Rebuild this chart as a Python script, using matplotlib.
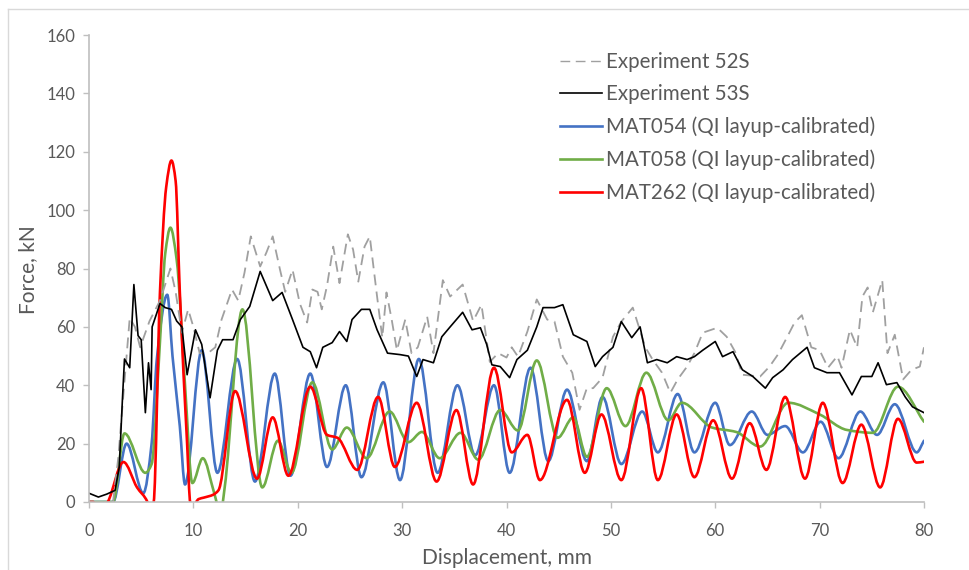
import matplotlib
matplotlib.use('Agg')
import matplotlib.pyplot as plt
import numpy as np
from matplotlib.lines import Line2D
from matplotlib.path import Path
from matplotlib.patches import PathPatch

plt.rcParams['font.family'] = ['Lato', 'DejaVu Sans']

# Experiment 52S (grey dashed)
exp52_x = [2.3, 2.8, 3.3, 3.9, 4.4, 4.9, 5.4, 5.8, 6.8, 7.8, 8.3, 8.9, 9.5, 10.0, 10.6, 11.4, 12.1, 12.7,
           13.7, 14.3, 14.9, 15.5, 16.4, 17.0, 17.6, 18.3, 18.8, 19.5, 20.2, 20.9, 21.4, 21.9, 22.3, 22.8,
           23.4, 24.0, 24.8, 25.3, 25.8, 26.4, 26.9, 27.6, 28.1, 28.5, 29.0, 29.5, 30.3, 30.9, 31.5, 32.4,
           33.0, 33.9, 34.6, 35.8, 36.8, 37.6, 38.4, 39.2, 40.0, 40.5, 41.1, 42.0, 42.9, 43.9, 44.6, 45.4,
           46.3, 47.0, 47.7, 48.3, 49.2, 50.2, 51.0, 52.1, 53.3, 54.0, 54.9, 55.7, 56.4, 57.3, 58.0, 58.8,
           60.2, 61.1, 61.9, 62.6, 64.3, 65.2, 66.0, 66.9, 67.6, 68.3, 69.2, 70.0, 70.8, 71.7, 72.1, 72.9,
           73.6, 74.1, 74.6, 75.1, 76.0, 76.5, 77.2, 78.0, 78.8, 79.6, 80.0]
exp52_y = [0, 15, 37, 63, 60, 53, 58, 62, 69, 80, 72, 58, 66, 60, 51, 51, 53, 62.5,
           72.8, 69, 78.6, 91, 80.7, 85.5, 91, 79.6, 72, 79.6, 68, 61.5, 72.8, 72, 66, 74,
           87.5, 75, 91.7, 86.5, 75.5, 87.5, 91, 70.4, 56.3, 71.8, 62.5, 52, 62.5, 51, 53, 63.5,
           51, 76, 70.4, 74.5, 62, 67.6, 48, 51, 49.5, 53, 49.8, 58.4, 69.4, 62.5, 61.8, 49.8,
           44.3, 31.6, 39, 39, 42.6, 56.6, 61.8, 66.6, 53, 48.8, 44.3, 37.4, 42, 46.4, 51, 58,
           59.7, 56.6, 51.5, 43.6, 43, 46.4, 50.5, 56.6, 61.5, 64, 53, 52, 46, 50, 46, 59,
           53, 70.4, 73.5, 65, 76, 51, 57.3, 42, 45.3, 46.4, 53]

# Experiment 53S (black)
exp53_x = [0, 0.9, 1.7, 2.5, 2.9, 3.2, 3.4, 3.9, 4.3, 4.7, 5.0, 5.4, 5.7, 5.95, 6.05, 6.8, 7.3, 7.9, 8.4,
           8.9, 9.4, 10.2, 10.8, 11.6, 12.3, 12.8, 13.8, 14.5, 15.4, 16.4, 17.6, 18.5, 19.5, 20.5, 21.2,
           21.8, 22.4, 23.3, 24.0, 24.7, 25.2, 26.1, 26.9, 27.6, 28.6, 29.8, 30.6, 31.4, 32.0, 33.0, 33.8,
           34.6, 35.8, 36.7, 37.5, 38.1, 38.6, 39.4, 40.3, 41.0, 42.0, 42.9, 43.5, 44.6, 45.4, 46.4, 47.7,
           48.5, 49.2, 50.2, 51.0, 52.0, 52.8, 53.5, 54.4, 55.4, 56.3, 57.3, 58.0, 58.8, 60.0, 60.7, 61.7,
           62.6, 63.6, 64.8, 65.5, 66.5, 67.4, 68.8, 69.5, 70.7, 71.9, 73.1, 74.0, 75.0, 75.6, 76.4, 77.4,
           78.2, 78.9, 80.0]
exp53_y = [3, 1.7, 2.7, 4, 12, 35, 49, 46, 74.5, 57, 55.6, 30.6, 47.7, 38.5, 60, 68, 66.6, 66, 62,
           60, 43.6, 59, 54, 35.7, 52, 55.6, 55.6, 62.5, 67, 79, 69, 71.8, 62.5, 53, 51.5,
           46, 53, 54.6, 58.4, 55, 62.5, 66, 66, 59, 51, 50.5, 50, 43, 48.8, 47.7, 56.6,
           60, 65, 59, 59.7, 54, 47, 46.4, 42.6, 48.8, 52, 60, 66.6, 66.6, 67.6, 57.3, 55,
           46.4, 49.8, 53, 61.8, 56.3, 60, 47.7, 48.8, 47.7, 49.8, 48.8, 49.8, 52, 55, 49.8, 51.5,
           45.3, 43, 39, 42.6, 45.3, 48.8, 53, 46, 44.3, 44.3, 36.7, 43, 43, 47.7, 40.2, 40.9,
           36, 32.6, 30.6]

# MAT054 (blue)
mat054_x = [0, 2.3, 3.6, 5.2, 6.0, 6.5, 7.5, 8.0, 8.7, 9.2, 10.8, 12.3, 14.2, 15.9, 17.8, 19.3, 21.2,
            22.8, 24.6, 26.1, 28.2, 29.8, 31.6, 33.4, 35.3, 37.0, 38.8, 40.3, 42.3, 44.0, 45.8, 47.7,
            49.2, 51.0, 53.0, 54.5, 56.4, 58.0, 60.0, 61.4, 63.5, 65.0, 66.7, 68.4, 70.1, 71.8, 73.9,
            75.5, 77.2, 79.3, 80.0]
mat054_y = [0, 0, 20, 3, 20, 49, 71, 50, 26, 6, 52, 10, 49, 7, 44, 9, 44,
            12, 40, 8.5, 41, 7.5, 49, 10, 40, 16, 40, 10, 46, 14, 38.5, 14,
            36, 13, 31, 17, 37, 17, 34, 19.5, 31, 23, 26, 17, 27.5, 15, 31,
            23, 33.5, 17, 21]

# MAT058 (green)
mat058_x = [0, 2.3, 3.4, 5.4, 6.0, 6.8, 7.3, 7.8, 8.4, 9.2, 9.9, 10.9, 12.0, 12.6, 13.0, 14.7, 16.6,
            18.1, 19.4, 21.4, 23.3, 24.7, 26.6, 28.8, 30.6, 31.9, 33.6, 35.6, 37.3, 39.4, 41.1, 42.9,
            44.9, 46.4, 47.7, 49.6, 51.4, 53.4, 55.5, 56.8, 59.7, 62.0, 64.3, 67.0, 70.0, 72.6, 75.1,
            77.5, 80.0]
mat058_y = [0, 0, 23.5, 10, 13, 55, 85, 94, 83, 40, 6.5, 15, 3, -4, 5, 66, 5,
            21, 10, 41, 18, 25.5, 15, 31, 20.5, 24, 15, 23.7, 14.5, 31.5, 24.5, 48.5,
            22, 29, 15.5, 39, 26, 44.3, 28, 34, 25.5, 24, 19, 34, 30, 24.7, 23.7,
            39.5, 27.5]

# MAT262 (red)
mat262_x = [0, 0.4, 1.0, 1.8, 3.3, 4.6, 5.6, 5.9, 6.2, 6.8, 7.4, 7.9, 8.3, 8.7, 9.4, 9.7, 10.0, 10.5,
            11.0, 11.9, 12.4, 14.0, 16.1, 17.6, 19.1, 21.2, 22.8, 23.8, 25.7, 27.7, 29.3, 31.4, 33.3,
            35.2, 36.8, 38.8, 40.5, 42.0, 43.2, 45.8, 47.5, 49.1, 51.0, 52.9, 54.5, 56.3, 58.0, 59.8,
            61.6, 63.3, 64.9, 66.7, 68.6, 70.3, 72.2, 74.0, 75.8, 77.5, 79.3, 80.0]
mat262_y = [0, 0, -4, 0, 13.7, 5, 0, -4, 0, 72, 108, 117, 110, 72, 20, 0, -1, 1,
            1.5, 2.5, 4, 38, 8, 29, 9, 39.5, 23, 22, 11, 36, 12, 34, 7,
            31.5, 6, 46, 17, 23, 7.5, 35, 10, 30, 7.5, 39, 7.5, 30, 8.5, 28,
            8, 27, 11, 36, 8, 34, 6.5, 26.5, 5, 28.5, 13.5, 13.8]

labels = ['Experiment 52S', 'Experiment 53S', 'MAT054 (QI layup-calibrated)',
          'MAT058 (QI layup-calibrated)', 'MAT262 (QI layup-calibrated)']

txt = '#595959'
axc = '#bfbfbf'
c_grey, c_blue, c_green, c_red = '#a0a0a0', '#4472c4', '#70ad47', '#ff0000'


def smooth_path(x, y):
    # smoothed line (like a spreadsheet "smoothed line"), drawn as cubic Bezier segments
    x = np.asarray(x, float)
    y = np.asarray(y, float)
    h = np.diff(x)
    d = np.diff(y) / h
    m = np.zeros_like(y)
    m[0], m[-1] = d[0], d[-1]
    for k in range(1, len(x) - 1):
        if d[k - 1] * d[k] > 0:
            w1 = 2 * h[k] + h[k - 1]
            w2 = h[k] + 2 * h[k - 1]
            m[k] = (w1 + w2) / (w1 / d[k - 1] + w2 / d[k])
    verts = [(x[0], y[0])]
    codes = [Path.MOVETO]
    for k in range(len(x) - 1):
        verts += [(x[k] + h[k] / 3, y[k] + m[k] * h[k] / 3),
                  (x[k + 1] - h[k] / 3, y[k + 1] - m[k + 1] * h[k] / 3),
                  (x[k + 1], y[k + 1])]
        codes += [Path.CURVE4] * 3
    return Path(verts, codes)


fig = plt.figure(figsize=(9.69, 5.70), dpi=100)
ax = fig.add_axes([89 / 969, 1 - 502 / 570, (924 - 89) / 969, (502 - 35) / 570])

ax.plot(exp52_x, exp52_y, color=c_grey, lw=1.3, dashes=(6, 3.5))
ax.plot(exp53_x, exp53_y, color='black', lw=1.2)
for sx, sy, c in [(mat054_x, mat054_y, c_blue), (mat058_x, mat058_y, c_green),
                  (mat262_x, mat262_y, c_red)]:
    ax.add_patch(PathPatch(smooth_path(sx, sy), fill=False, edgecolor=c, lw=1.9,
                           joinstyle='round', capstyle='round'))

ax.set_xlim(0, 80)
ax.set_ylim(0, 160)
ax.set_xticks(range(0, 81, 10))
ax.set_yticks(range(0, 161, 20))
for s in ['top', 'right']:
    ax.spines[s].set_visible(False)
for s in ['left', 'bottom']:
    ax.spines[s].set_color(axc)
    ax.spines[s].set_linewidth(1.2)
ax.tick_params(axis='both', colors=axc, length=4, width=1.0, labelcolor=txt, labelsize=12)
ax.tick_params(axis='y', pad=6)
ax.tick_params(axis='x', pad=11)

fig.text(28 / 969, 1 - 270 / 570, 'Force, kN', rotation=90, ha='center', va='center',
         color=txt, fontsize=15)
fig.text(507 / 969, 1 - 558 / 570, 'Displacement, mm', ha='center', va='center',
         color=txt, fontsize=15)

handles = [Line2D([], [], color=c_grey, lw=1.0, dashes=(7, 4)),
           Line2D([], [], color='black', lw=1.2),
           Line2D([], [], color=c_blue, lw=1.9),
           Line2D([], [], color=c_green, lw=1.9),
           Line2D([], [], color=c_red, lw=1.9)]
leg = fig.legend(handles, labels, loc='upper left', bbox_to_anchor=(560 / 969, 1 - 52 / 570),
                 frameon=False, fontsize=14.8, handlelength=2.05, handletextpad=0.2,
                 labelspacing=0.6, borderaxespad=0, borderpad=0)
for t in leg.get_texts():
    t.set_color(txt)

# chart-area border
fig.add_artist(Line2D([8 / 969, 8 / 969], [0, 1 - 9 / 570], color='#d9d9d9', lw=1.0))
fig.add_artist(Line2D([8 / 969, 1], [1 - 9 / 570, 1 - 9 / 570], color='#d9d9d9', lw=1.0))

fig.savefig('out.png', dpi=100)
